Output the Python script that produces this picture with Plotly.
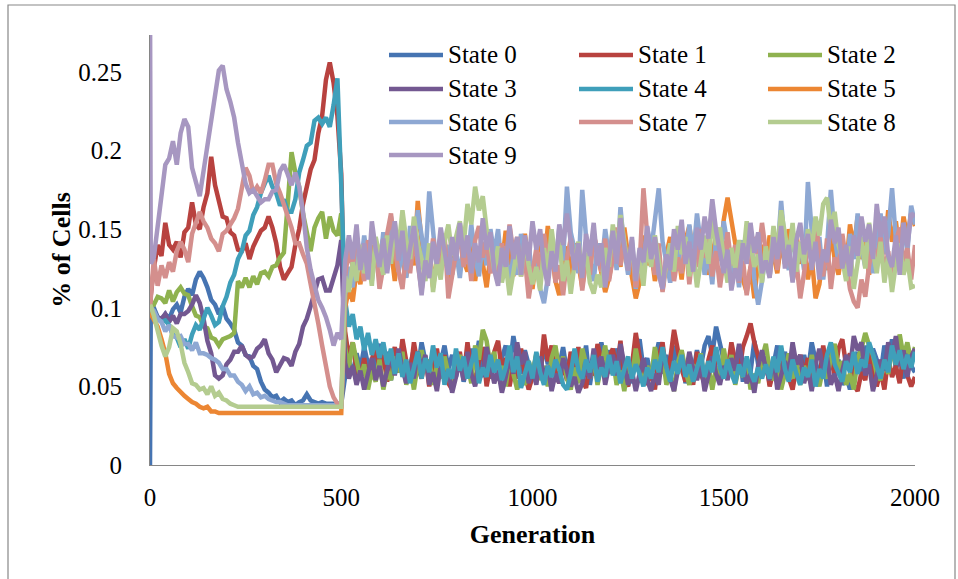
import plotly.graph_objects as go

# ---------------- data (values in thousandths of the cell fraction) ----------------
GENERATIONS = [0, 2] + list(range(10, 2001, 10))
STATE_NAMES = ["State 0", "State 1", "State 2", "State 3", "State 4",
               "State 5", "State 6", "State 7", "State 8", "State 9"]
COLORS = ["#4674B2", "#B8423F", "#8FB24F", "#735891", "#3F9FBA",
          "#EC8633", "#8EA8D3", "#D48F8D", "#B4CC90", "#A797C1"]

STATE_0 = [0, 100,
           100, 94, 92, 96, 93, 99, 102, 97, 107, 112,
           108, 118, 123, 119, 113, 105, 102, 96, 101, 93,
           90, 86, 78, 76, 70, 69, 63, 61, 53, 48,
           46, 43, 44, 40, 42, 40, 41, 38, 40, 41,
           45, 41, 40, 39, 40, 39, 39, 39, 39, 39,
           56, 66, 58, 71, 61, 75, 64, 55, 69, 77,
           62, 72, 54, 67, 59, 73, 52, 63, 74, 60,
           78, 66, 57, 71, 53, 65, 76, 61, 70, 56,
           69, 53, 62, 74, 63, 79, 59, 70, 55, 66,
           54, 68, 76, 61, 82, 68, 58, 73, 63, 55,
           67, 57, 77, 64, 73, 53, 63, 75, 59, 70,
           58, 72, 61, 76, 51, 67, 57, 78, 64, 73,
           59, 74, 66, 53, 63, 52, 72, 80, 61, 68,
           55, 67, 78, 58, 70, 59, 76, 62, 72, 52,
           65, 58, 73, 62, 76, 82, 70, 88, 77, 64,
           56, 71, 61, 75, 53, 67, 59, 79, 64, 56,
           69, 51, 63, 76, 61, 72, 54, 73, 62, 58,
           70, 59, 78, 65, 55, 68, 50, 72, 58, 67,
           51, 57, 48, 60, 72, 57, 76, 62, 74, 67,
           58, 76, 64, 80, 61, 70, 55, 75, 63, 59]

STATE_1 = [100, 108,
           125, 140, 133, 154, 140, 137, 142, 132, 148, 151,
           167, 153, 150, 164, 173, 196, 178, 167, 158, 157,
           148, 146, 137, 136, 141, 131, 139, 144, 149, 151,
           158, 151, 141, 126, 118, 122, 126, 140, 150, 166,
           176, 188, 194, 211, 222, 245, 256, 243, 222, 185,
           85, 68, 78, 60, 55, 68, 52, 67, 76, 60,
           70, 53, 65, 75, 59, 80, 66, 57, 78, 63,
           55, 69, 50, 61, 74, 58, 70, 52, 48, 60,
           72, 56, 78, 60, 52, 66, 75, 50, 63, 72,
           79, 60, 68, 50, 63, 55, 74, 58, 48, 56,
           70, 58, 83, 66, 76, 60, 52, 64, 54, 72,
           61, 75, 54, 49, 65, 57, 77, 67, 55, 68,
           74, 60, 79, 55, 50, 63, 84, 69, 58, 51,
           60, 48, 68, 78, 57, 67, 86, 73, 61, 53,
           65, 51, 72, 58, 52, 67, 76, 60, 55, 70,
           60, 78, 66, 58, 75, 82, 90, 78, 69, 57,
           67, 50, 60, 54, 74, 63, 55, 48, 62, 70,
           57, 68, 49, 60, 53, 76, 61, 70, 56, 74,
           80, 63, 71, 51, 47, 59, 54, 73, 62, 50,
           60, 48, 68, 56, 63, 52, 72, 57, 50, 56]

STATE_2 = [100, 100,
           102, 107, 106, 103, 111, 104, 110, 113, 109, 108,
           101, 95, 94, 88, 87, 81, 80, 76, 80, 81,
           82, 84, 117, 113, 119, 113, 120, 115, 122, 123,
           120, 126, 127, 132, 135, 166, 199, 186, 177, 160,
           149, 136, 151, 157, 161, 144, 158, 149, 146, 160,
           75, 62, 78, 66, 55, 64, 48, 60, 53, 67,
           48, 60, 54, 69, 59, 72, 51, 62, 48, 64,
           73, 59, 67, 51, 63, 55, 69, 58, 50, 62,
           70, 56, 64, 52, 76, 67, 86, 79, 63, 72,
           55, 63, 50, 68, 58, 48, 57, 51, 66, 58,
           71, 54, 63, 50, 68, 76, 60, 69, 55, 48,
           62, 52, 74, 64, 55, 68, 51, 63, 76, 58,
           68, 51, 60, 47, 65, 56, 74, 60, 52, 63,
           55, 75, 61, 70, 51, 58, 47, 65, 73, 60,
           51, 64, 57, 71, 53, 63, 48, 62, 55, 74,
           60, 70, 51, 63, 56, 68, 48, 58, 52, 68,
           77, 60, 54, 66, 48, 58, 71, 55, 65, 51,
           63, 54, 70, 58, 50, 62, 55, 68, 77, 60,
           66, 51, 58, 48, 68, 74, 84, 76, 70, 58,
           54, 67, 58, 74, 64, 83, 69, 78, 66, 75]

STATE_3 = [100, 100,
           98, 94, 93, 96, 91, 95, 90, 96, 96, 98,
           102, 108, 103, 93, 79, 71, 57, 55, 57, 64,
           67, 72, 72, 76, 70, 68, 69, 74, 76, 80,
           71, 67, 59, 63, 68, 67, 63, 72, 77, 88,
           93, 101, 110, 118, 119, 111, 111, 118, 127, 143,
           65, 55, 63, 51, 60, 48, 59, 68, 54, 63,
           50, 60, 70, 57, 74, 61, 52, 65, 55, 72,
           61, 70, 51, 59, 47, 63, 54, 60, 46, 56,
           66, 54, 72, 58, 50, 62, 56, 75, 63, 52,
           60, 46, 56, 68, 58, 78, 64, 72, 52, 61,
           51, 69, 56, 63, 47, 58, 52, 68, 60, 50,
           56, 46, 52, 63, 55, 74, 61, 69, 51, 63,
           70, 57, 77, 64, 51, 60, 47, 58, 68, 54,
           47, 58, 51, 71, 63, 54, 47, 60, 68, 57,
           72, 61, 54, 64, 47, 57, 69, 58, 51, 63,
           54, 68, 60, 77, 64, 52, 58, 46, 63, 73,
           61, 54, 68, 48, 57, 66, 58, 78, 64, 70,
           52, 61, 47, 64, 74, 60, 69, 51, 58, 47,
           60, 70, 61, 82, 73, 78, 57, 64, 47, 56,
           67, 60, 78, 69, 82, 63, 73, 56, 69, 74]

STATE_4 = [100, 100,
           98, 93, 91, 92, 89, 83, 81, 75, 80, 74,
           83, 89, 86, 93, 100, 95, 89, 91, 101, 107,
           116, 121, 131, 136, 146, 149, 159, 164, 173, 179,
           184, 177, 173, 165, 169, 161, 161, 169, 186, 194,
           203, 205, 219, 221, 217, 221, 215, 229, 246, 178,
           105, 88, 96, 80, 88, 73, 84, 70, 80, 68,
           78, 64, 74, 58, 71, 56, 67, 52, 63, 72,
           55, 68, 59, 76, 62, 71, 51, 61, 55, 74,
           60, 69, 55, 64, 74, 52, 62, 56, 70, 59,
           67, 54, 62, 76, 59, 69, 49, 58, 66, 55,
           72, 59, 51, 63, 56, 67, 61, 51, 48, 58,
           74, 60, 55, 67, 59, 70, 53, 62, 56, 70,
           57, 66, 52, 61, 69, 55, 64, 58, 50, 62,
           55, 67, 59, 75, 62, 53, 66, 58, 70, 56,
           64, 53, 61, 70, 56, 66, 59, 75, 62, 55,
           67, 58, 52, 64, 56, 69, 59, 53, 62, 55,
           64, 55, 69, 59, 76, 61, 53, 67, 58, 51,
           62, 56, 67, 50, 61, 55, 70, 78, 64, 58,
           53, 66, 59, 72, 58, 67, 62, 78, 70, 61,
           55, 67, 59, 76, 64, 73, 61, 70, 62, 72]

STATE_5 = [97, 96,
           92, 88, 80, 71, 58, 52, 49, 46, 44, 42,
           40, 39, 37, 36, 37, 34, 34, 33, 33, 33,
           33, 33, 33, 33, 33, 33, 33, 33, 33, 33,
           33, 33, 33, 33, 33, 33, 33, 33, 33, 33,
           33, 33, 33, 33, 33, 33, 33, 33, 33, 33,
           100, 112, 104, 124, 115, 134, 121, 140, 126, 133,
           144, 125, 137, 117, 146, 130, 120, 138, 127, 168,
           142, 122, 136, 113, 132, 124, 142, 118, 130, 139,
           150, 130, 123, 144, 117, 136, 128, 113, 133, 123,
           142, 128, 149, 134, 120, 141, 126, 147, 131, 112,
           133, 144, 124, 152, 136, 117, 108, 126, 139, 121,
           141, 128, 113, 133, 123, 147, 134, 124, 110, 119,
           131, 145, 126, 151, 133, 118, 106, 116, 146, 127,
           137, 117, 130, 111, 134, 145, 124, 136, 118, 143,
           152, 134, 148, 129, 141, 121, 133, 146, 132, 156,
           170, 154, 141, 130, 118, 110, 126, 106, 130, 140,
           125, 146, 132, 122, 142, 128, 150, 136, 147, 128,
           140, 118, 132, 106, 115, 134, 124, 148, 131, 121,
           137, 125, 153, 138, 158, 131, 143, 121, 140, 132,
           152, 136, 162, 142, 155, 134, 158, 145, 160, 152]

STATE_6 = [100, 100,
           98, 93, 91, 85, 89, 82, 81, 82, 77, 77,
           73, 78, 71, 71, 70, 68, 67, 65, 61, 61,
           57, 57, 53, 51, 47, 50, 45, 46, 43, 44,
           42, 41, 40, 40, 39, 38, 38, 38, 38, 38,
           38, 38, 38, 38, 38, 38, 38, 38, 38, 38,
           108, 126, 113, 136, 124, 146, 128, 117, 138, 125,
           148, 131, 158, 139, 123, 136, 119, 152, 137, 162,
           146, 130, 174, 147, 124, 142, 127, 140, 121, 137,
           119, 141, 128, 153, 132, 120, 142, 127, 150, 134,
           150, 124, 139, 112, 134, 121, 147, 130, 141, 117,
           129, 112, 103, 119, 141, 126, 151, 130, 177, 148,
           137, 122, 175, 145, 131, 117, 141, 125, 150, 133,
           145, 124, 164, 137, 121, 143, 112, 133, 122, 151,
           136, 154, 176, 142, 128, 116, 137, 124, 147, 131,
           153, 132, 160, 140, 121, 135, 115, 146, 130, 155,
           140, 120, 133, 113, 143, 128, 150, 118, 102, 117,
           134, 120, 146, 133, 168, 139, 124, 150, 129, 141,
           124, 180, 149, 131, 145, 118, 139, 175, 145, 128,
           142, 121, 147, 131, 160, 138, 126, 151, 122, 143,
           160, 134, 147, 176, 144, 128, 154, 135, 165, 153]

STATE_7 = [100, 105,
           131, 114, 127, 119, 129, 123, 136, 142, 137, 129,
           147, 154, 161, 155, 151, 144, 141, 136, 147, 149,
           153, 157, 163, 175, 189, 184, 173, 177, 173, 181,
           191, 191, 179, 173, 166, 157, 151, 141, 141, 134,
           128, 115, 104, 90, 76, 62, 50, 43, 39, 38,
           120, 137, 126, 146, 129, 117, 143, 125, 139, 112,
           126, 147, 160, 137, 123, 112, 136, 122, 145, 130,
           111, 130, 120, 144, 132, 124, 147, 106, 123, 135,
           146, 126, 138, 117, 143, 152, 132, 144, 122, 131,
           117, 141, 127, 153, 135, 145, 120, 132, 106, 124,
           138, 124, 147, 132, 142, 116, 127, 108, 131, 144,
           126, 139, 111, 130, 121, 147, 135, 123, 144, 117,
           132, 151, 127, 142, 124, 136, 113, 127, 176, 146,
           134, 121, 141, 110, 128, 139, 117, 132, 122, 142,
           115, 137, 126, 150, 132, 144, 120, 136, 113, 131,
           148, 127, 140, 116, 131, 108, 126, 145, 132, 154,
           136, 120, 144, 124, 150, 131, 139, 117, 129, 106,
           122, 142, 129, 156, 136, 120, 144, 112, 132, 125,
           147, 129, 112, 104, 100, 118, 107, 127, 141, 128,
           145, 121, 136, 114, 142, 151, 127, 138, 118, 140]

STATE_8 = [102, 101,
           95, 85, 76, 69, 75, 87, 85, 77, 65, 59,
           52, 51, 48, 49, 45, 50, 44, 46, 42, 41,
           39, 38, 37, 37, 37, 37, 37, 37, 37, 37,
           37, 37, 37, 37, 37, 37, 37, 37, 37, 37,
           37, 37, 37, 37, 37, 37, 37, 37, 37, 37,
           120, 110, 129, 117, 140, 122, 133, 114, 145, 132,
           121, 146, 128, 154, 138, 162, 143, 131, 158, 141,
           131, 117, 141, 110, 130, 118, 142, 153, 133, 145,
           155, 140, 166, 153, 177, 162, 171, 150, 140, 124,
           139, 116, 128, 108, 124, 137, 120, 144, 127, 115,
           126, 111, 138, 122, 150, 131, 144, 117, 130, 109,
           128, 142, 124, 135, 116, 109, 121, 113, 138, 126,
           153, 134, 159, 141, 126, 139, 118, 131, 114, 141,
           126, 146, 132, 114, 128, 141, 123, 152, 134, 145,
           120, 135, 113, 130, 146, 128, 157, 140, 151, 131,
           116, 138, 125, 143, 130, 155, 139, 126, 134, 116,
           139, 124, 152, 135, 162, 146, 132, 154, 123, 142,
           128, 150, 137, 158, 146, 166, 170, 150, 161, 140,
           131, 117, 139, 112, 128, 145, 125, 154, 136, 122,
           142, 116, 133, 110, 128, 141, 121, 131, 113, 114]

STATE_9 = [300, 128,
           132, 151, 171, 191, 195, 206, 191, 211, 220, 215,
           189, 181, 171, 187, 204, 221, 235, 251, 254, 239,
           231, 221, 205, 193, 179, 173, 175, 171, 167, 169,
           169, 174, 175, 187, 191, 185, 178, 186, 177, 161,
           138, 124, 114, 105, 100, 94, 86, 76, 84, 80,
           130, 146, 131, 153, 124, 141, 118, 155, 137, 126,
           144, 122, 141, 155, 130, 149, 124, 140, 152, 131,
           108, 130, 119, 142, 128, 151, 136, 121, 145, 130,
           154, 132, 146, 122, 141, 129, 157, 137, 148, 124,
           114, 138, 126, 152, 131, 145, 121, 146, 130, 155,
           137, 150, 126, 114, 136, 123, 153, 140, 160, 141,
           124, 141, 119, 147, 133, 154, 127, 141, 113, 132,
           149, 128, 157, 139, 124, 145, 117, 138, 129, 152,
           131, 145, 121, 112, 134, 124, 150, 137, 156, 128,
           142, 123, 151, 137, 158, 144, 169, 149, 134, 122,
           137, 111, 125, 117, 141, 128, 154, 135, 148, 122,
           130, 119, 145, 131, 152, 125, 140, 116, 143, 154,
           134, 147, 124, 142, 118, 137, 129, 156, 141, 151,
           125, 140, 120, 146, 133, 158, 142, 153, 131, 166,
           145, 158, 133, 126, 146, 121, 154, 139, 160, 158]

SERIES = [STATE_0, STATE_1, STATE_2, STATE_3, STATE_4,
          STATE_5, STATE_6, STATE_7, STATE_8, STATE_9]

Y_TICKS = [0, 0.05, 0.1, 0.15, 0.2, 0.25]
Y_TICK_TEXT = ["0", "0.05", "0.1", "0.15", "0.2", "0.25"]
X_TICKS = [0, 500, 1000, 1500, 2000]

# ---------------- layout geometry ----------------
W, H = 958, 579
L, R, T, B = 150, 43, 35, 114
PW, PH = W - L - R, H - T - B
FONT = "Liberation Serif"


def px_x(px):
    return (px - L) / PW


def px_y(py):
    return (H - B - py) / PH


fig = go.Figure()
for name, color, vals in zip(STATE_NAMES, COLORS, SERIES):
    fig.add_trace(go.Scatter(
        x=GENERATIONS, y=[v / 1000 for v in vals], mode="lines", name=name,
        line=dict(color=color, width=4.5), showlegend=False,
    ))

# legend laid out as in the original: 3 columns, line sample + label
shapes = []
annotations = []
col_x = [389, 579, 768]
row_y = [55, 89, 122, 155]
for i, (name, color) in enumerate(zip(STATE_NAMES, COLORS)):
    r, c = divmod(i, 3)
    x0 = col_x[c]
    y0 = row_y[r]
    shapes.append(dict(type="line", xref="paper", yref="paper",
                       x0=px_x(x0), x1=px_x(x0 + 54), y0=px_y(y0), y1=px_y(y0),
                       line=dict(color=color, width=4.5)))
    annotations.append(dict(xref="paper", yref="paper", x=px_x(x0 + 57), y=px_y(y0),
                            xanchor="left", yanchor="middle", text=name,
                            showarrow=False, font=dict(family=FONT, size=25, color="#000")))

# outer chart border
shapes.append(dict(type="rect", xref="paper", yref="paper",
                   x0=px_x(8), x1=px_x(955), y0=px_y(585), y1=px_y(5),
                   line=dict(color="#888888", width=1.2), layer="below"))

fig.update_layout(
    width=W, height=H,
    margin=dict(l=L, r=R, t=T, b=B),
    paper_bgcolor="white", plot_bgcolor="white",
    font=dict(family=FONT, size=24, color="#000"),
    shapes=shapes, annotations=annotations,
    xaxis=dict(range=[0, 2000], tickvals=X_TICKS, showgrid=False, zeroline=False,
               showline=True, linecolor="#868686", linewidth=1.2, ticks="",
               ticklabelstandoff=10, tickfont=dict(family=FONT, size=25),
               title=dict(text="<b>Generation</b>", font=dict(family=FONT, size=26),
                          standoff=14)),
    yaxis=dict(range=[0, 0.2735], tickvals=Y_TICKS, ticktext=Y_TICK_TEXT,
               showgrid=False, zeroline=False, showline=True, linecolor="#868686",
               linewidth=1.2, ticks="", layer="below traces",
               ticklabelstandoff=22, tickfont=dict(family=FONT, size=25),
               title=dict(text="<b>% of Cells</b>", font=dict(family=FONT, size=26),
                          standoff=0)),
)

fig.write_html("out.html")
